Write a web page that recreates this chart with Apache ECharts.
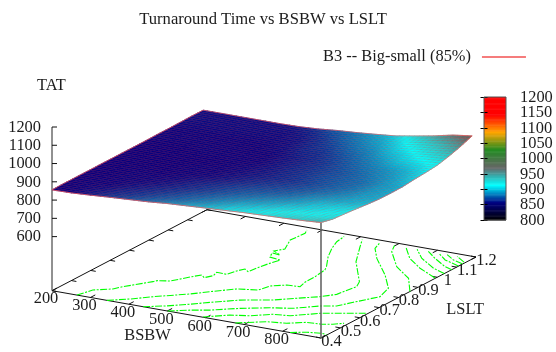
<!DOCTYPE html>
<html><head><meta charset="utf-8">
<style>html,body{margin:0;padding:0;background:#fff}#c{width:556px;height:352px}</style>
<script src="https://cdn.jsdelivr.net/npm/echarts@6/dist/echarts.min.js"></script>
</head><body><div id="c"></div>
<script>
// ---- axes / ticks
const bsbwTicks=[200,300,400,500,600,700,800];
const bsbwAllTicks=[200,300,400,500,600,700,800,900];
const lsltTicks=[0.4,0.5,0.6,0.7,0.8,0.9,1,1.1,1.2];
const tatTicks=[600,700,800,900,1000,1100,1200];
const barTicks=[800,850,900,950,1000,1050,1100,1150,1200];
const tatFloor=304;
const paletteStops=[800,857,914,971,1029,1086,1143,1200];
const paletteColors=['#000000','#000080','#00ffff','#666666','#228b22','#ffa500','#ff0000','#ff0000'];
// ---- surface table (rows: LSLT, cols: BSBW)
const surfaceBsbw=[200,250,300,350,400,450,500,550,600,650,700,750,800,850,900];
const surfaceLslt=[0.40,0.46,0.52,0.58,0.64,0.70,0.76,0.82,0.88,0.94,1.00,1.06,1.12,1.18];
const tat040=[856,858,864,871,877,883,892,898,904,910,916,920,924,929,936];
const tat046=[857,858,861,866,870,876,881,888,895,902,907,912,916,918,921];
const tat052=[857,858,858,862,866,870,876,881,887,893,898,904,908,912,916];
const tat058=[857,857,858,859,862,866,870,875,880,885,890,895,902,906,910];
const tat064=[857,857,858,858,859,863,867,871,875,878,882,889,894,898,903];
const tat070=[857,857,857,857,858,859,862,866,870,873,877,882,888,894,898];
const tat076=[857,857,857,857,858,858,860,863,866,869,874,879,884,892,897];
const tat082=[857,857,857,857,857,858,859,862,866,870,875,879,883,892,898];
const tat088=[857,857,857,858,858,858,858,862,866,870,875,880,887,894,905];
const tat094=[858,858,858,858,858,858,858,862,866,871,878,885,891,899,910];
const tat100=[858,858,858,858,858,858,860,865,868,875,883,891,902,908,917];
const tat106=[859,859,859,859,859,859,861,867,873,882,889,901,910,923,933];
const tat112=[860,860,860,860,860,860,863,870,880,888,897,910,925,936,953];
const tat118=[860,860,860,860,860,862,868,878,885,894,904,922,941,964,978];
const tatRows=[tat040,tat046,tat052,tat058,tat064,tat070,tat076,tat082,tat088,tat094,tat100,tat106,tat112,tat118];
// ---- contours on the base [BSBW, LSLT]
const contourA=[[265,.40],[277,.458],[312,.492],[323,.522],[363,.598],[367,.611],[394,.625],[420,.685],[433,.711],[448,.694],[458,.721],[452,.75],[479,.748],[486,.786],[495,.811],[511,.795],[516,.847],[522,.885],[530,.923],[499,.932],[488,.965],[511,.96],[484,.982],[498,1.011],[475,1.084],[479,1.153],[470,1.18]];
const contourB=[[343,.40],[383,.44],[420,.488],[481,.555],[511,.598],[553,.653],[599,.673],[607,.718],[636,.747],[668,.752],[661,.791],[660,.845],[654,.908],[645,.934],[611,1.01],[587,1.077],[572,1.132],[567,1.18]];
const contourC=[[437,.40],[477,.434],[519,.479],[551,.519],[601,.575],[665,.618],[705,.662],[744,.704],[768,.743],[778,.826],[765,.866],[684,1.009],[636,1.125],[614,1.18]];
const contourD=[[501,.40],[541,.436],[580,.462],[632,.514],[688,.557],[735,.583],[779,.635],[811,.657],[830,.706],[861,.782],[846,.855],[790,.949],[712,1.061],[671,1.133],[661,1.175]];
const contourE=[[592,.402],[637,.451],[679,.472],[718,.513],[757,.524],[809,.584],[839,.603],[897,.642]];
const contourF=[[677,.40],[734,.45],[778,.464],[814,.497],[850,.503],[872,.517],[890,.539]];
const contourG=[[819,.401],[851,.424],[884,.436],[898,.432]];
const contourH=[[900,.859],[848,.955],[782,1.025],[716,1.13],[698,1.18]];
const contourI=[[898,.992],[833,1.044],[776,1.104],[728,1.18]];
const contourJ=[[900,1.036],[859,1.062],[799,1.12],[757,1.18]];
const contourK=[[900,1.075],[876,1.088],[825,1.137],[786,1.18]];
const contourL=[[899,1.111],[851,1.138],[813,1.18]];
const contourM=[[898,1.133],[867,1.149],[835,1.18]];
const contourN=[[896,1.146],[861,1.18]];
const contours=[contourA,contourB,contourC,contourD,contourE,contourF,contourG,contourH,contourI,contourJ,contourK,contourL,contourM,contourN];

const FONT='"Liberation Serif","Times New Roman",serif';
const FS=16.4, TXT='#1c1c1c';
const font=FS+'px '+FONT;
const xMin=200,xMax=900,yMin=0.4,yMax=1.2;
const depthX=155,depthY=81,skewY=47.3,subdiv=4;

function project(api,x,y,z){
  const b=api.coord([x,z]);
  const u=(x-xMin)/(xMax-xMin),v=(y-yMin)/(yMax-yMin);
  return [b[0]+v*depthX,b[1]+u*skewY-v*depthY];
}
function paletteColor(z){
  const s=paletteStops;let i=0;
  if(z<=s[0])i=0;else{while(i<s.length-2&&z>s[i+1])i++;}
  const t=Math.max(0,Math.min(1,(z-s[i])/(s[i+1]-s[i])));
  return echarts.color.lerp(t,[paletteColors[i],paletteColors[i+1]]);
}
function line(a,b,stroke,w){
  return {type:'line',shape:{x1:a[0],y1:a[1],x2:b[0],y2:b[1]},style:{stroke:stroke,lineWidth:w}};
}
function label(p,text,align,dx,dy){
  return {type:'text',style:{x:p[0]+dx,y:p[1]+dy,text:text,font:font,fill:TXT,align:align||'center',verticalAlign:'middle'}};
}
// frame under the surface
function renderFrame(params,api){
  const ch=[];const z=tatFloor;
  const P=(x,y,zz)=>project(api,x,y,zz===undefined?z:zz);
  ch.push(line(P(xMin,yMin),P(xMax,yMin),'#111',1));
  ch.push(line(P(xMax,yMin),P(xMax,yMax),'#111',1));
  ch.push(line(P(xMin,yMin),P(xMin,yMax),'#111',1));
  ch.push(line(P(xMin,yMax),P(xMax,yMax),'#111',1));
  bsbwAllTicks.forEach(t=>{
    ch.push(line(P(t,yMin),P(t,yMin+0.025),'#111',1));
    ch.push(line(P(t,yMax),P(t,yMax-0.025),'#111',1));
  });
  lsltTicks.forEach(t=>{
    ch.push(line(P(xMax,t),P(xMax-13,t),'#111',1));
    ch.push(line(P(xMin,t),P(xMin+13,t),'#111',1));
  });
  ch.push(line(P(xMin,yMin),P(xMin,yMin,1200),'#222',1));
  tatTicks.forEach(t=>{
    const a=P(xMin,yMin,t);
    ch.push({type:'line',shape:{x1:a[0],y1:a[1],x2:a[0]+5,y2:a[1]},style:{stroke:'#111',lineWidth:1}});
    ch.push(label(a,String(t),'right',-11,0.5));
  });
  bsbwTicks.forEach(t=>ch.push(label(P(t,yMin),String(t),'center',-6,8.5)));
  lsltTicks.forEach(t=>ch.push(label(P(xMax,t),String(t),'center',10.5,3.5)));
  ch.push(label(P(xMin,yMin,1200),'TAT','center',-0.7,-41));
  const bx=P(550,yMin);ch.push(label(bx,'BSBW','center',-39,21.4));
  const ly=P(xMax,0.9);ch.push(label(ly,'LSLT','center',47.3,21.9));
  return {type:'group',children:ch};
}
function renderContour(params,api){
  const pts=contours[params.dataIndex].map(p=>project(api,p[0],p[1],tatFloor));
  return {type:'polyline',shape:{points:pts},style:{stroke:'#00ff00',lineWidth:1.1,lineDash:[7,1.5,2,1.5],fill:null}};
}
function renderCorner(params,api){
  return line(project(api,xMax,yMin,tatFloor),project(api,xMax,yMin,tatRows[0][14]),'#666',1.6);
}
// surface: each table cell painted as shaded facets with the fine red mesh
function renderCell(params,api){
  const idx=params.dataIndex;const nc=surfaceBsbw.length-1;
  const i=idx%nc,j=Math.floor(idx/nc);
  const x0=surfaceBsbw[i],x1=surfaceBsbw[i+1],y0=surfaceLslt[j],y1=surfaceLslt[j+1];
  const z00=tatRows[j][i],z10=tatRows[j][i+1],z01=tatRows[j+1][i],z11=tatRows[j+1][i+1];
  const ch=[];
  const Z=(s,t)=>z00*(1-s)*(1-t)+z10*s*(1-t)+z01*(1-s)*t+z11*s*t;
  const Q=(s,t)=>project(api,x0+(x1-x0)*s,y0+(y1-y0)*t,Z(s,t));
  for(let b=0;b<subdiv;b++)for(let a=0;a<subdiv;a++){
    const s0=a/subdiv,s1=(a+1)/subdiv,t0=b/subdiv,t1=(b+1)/subdiv;
    const c=paletteColor(Z((s0+s1)/2,(t0+t1)/2));
    ch.push({type:'polygon',shape:{points:[Q(s0,t0),Q(s1,t0),Q(s1,t1),Q(s0,t1)]},style:{fill:c,stroke:c,lineWidth:0.7}});
  }
  for(let b=0;b<subdiv;b++){const t=b/subdiv;ch.push(line(Q(0,t),Q(1,t),'rgba(255,40,40,0.24)',0.8));}
  for(let a=0;a<subdiv;a++){const s=a/subdiv;ch.push(line(Q(s,0),Q(s,1),'rgba(255,40,40,0.12)',0.8));}
  return {type:'group',children:ch};
}
function renderOutline(params,api){
  const pts=[];const nr=surfaceLslt.length,nc=surfaceBsbw.length;
  for(let i=0;i<nc;i++)pts.push(project(api,surfaceBsbw[i],surfaceLslt[0],tatRows[0][i]));
  for(let j=1;j<nr;j++)pts.push(project(api,surfaceBsbw[nc-1],surfaceLslt[j],tatRows[j][nc-1]));
  for(let i=nc-2;i>=0;i--)pts.push(project(api,surfaceBsbw[i],surfaceLslt[nr-1],tatRows[nr-1][i]));
  for(let j=nr-2;j>=0;j--)pts.push(project(api,surfaceBsbw[0],surfaceLslt[j],tatRows[j][0]));
  return {type:'polygon',shape:{points:pts},style:{fill:null,stroke:'rgba(255,90,90,0.75)',lineWidth:0.9}};
}
// colour bar
const barLevels=[];for(let z=800;z<1200;z+=4)barLevels.push(z);
function renderBar(params,api){
  const z=barLevels[params.dataIndex];
  const a=api.coord([0,z]),b=api.coord([1,z+4]);
  return {type:'rect',shape:{x:a[0],y:b[1],width:b[0]-a[0],height:a[1]-b[1]+0.5},style:{fill:paletteColor(z+2)}};
}
function renderBarFrame(params,api){
  const a=api.coord([0,800]),b=api.coord([1,1200]);
  const ch=[{type:'rect',shape:{x:a[0],y:b[1],width:b[0]-a[0],height:a[1]-b[1]},style:{fill:null,stroke:'#555',lineWidth:1}}];
  barTicks.forEach(t=>{ch.push(label(api.coord([1,t]),String(t),'left',14,0.5));});
  return {type:'group',children:ch};
}
const cellData=[];
for(let j=0;j<surfaceLslt.length-1;j++)for(let i=0;i<surfaceBsbw.length-1;i++)cellData.push([surfaceBsbw[i],tatRows[j][i]]);

const chart=echarts.init(document.getElementById('c'),null,{renderer:'canvas'});
const barAxisBase={type:'value',gridIndex:1,min:800,max:1200,interval:50,z:6,
  axisLine:{show:false},
  axisTick:{show:true,inside:true,length:3.5,lineStyle:{color:'#000'}},splitLine:{show:false},axisLabel:{show:false}};
chart.setOption({
  animation:false,backgroundColor:'#fff',
  title:{text:'Turnaround Time vs BSBW vs LSLT',left:258,top:6,textAlign:'center',
    textStyle:{fontFamily:FONT,fontSize:16.6,fontWeight:'normal',color:TXT}},
  legend:{show:true,left:318,top:44,align:'right',itemWidth:44,itemHeight:1.5,icon:'rect',selectedMode:false,
    data:['B3 -- Big-small (85%)'],textStyle:{fontFamily:FONT,fontSize:FS,color:TXT,padding:[0,6,0,0]}},
  grid:[{left:52,top:127,width:269,height:163.7,show:false},{left:484,top:97,width:22,height:123,show:false}],
  xAxis:[{type:'value',min:xMin,max:xMax,show:false,gridIndex:0},{type:'value',min:0,max:1,show:false,gridIndex:1}],
  yAxis:[{type:'value',min:tatFloor,max:1200,show:false,gridIndex:0},
    Object.assign({},barAxisBase,{position:'right'}),
    Object.assign({},barAxisBase,{position:'left'})],
  series:[
    {type:'custom',name:'frame',silent:true,data:[[xMin,tatFloor]],renderItem:renderFrame,z:1,clip:false},
    {type:'custom',name:'contours',silent:true,data:contours.map(c=>c[0]),renderItem:renderContour,z:2,clip:false},
    {type:'custom',name:'corner',silent:true,data:[[xMax,tatFloor]],renderItem:renderCorner,z:3,clip:false},
    {type:'custom',name:'B3 -- Big-small (85%)',silent:true,data:cellData,renderItem:renderCell,z:4,clip:false,itemStyle:{color:'#f25050'},progressive:0},
    {type:'custom',name:'outline',silent:true,data:[[xMin,tatFloor]],renderItem:renderOutline,z:5,clip:false},
    {type:'custom',name:'bar',silent:true,xAxisIndex:1,yAxisIndex:1,data:barLevels.map(z=>[0,z]),renderItem:renderBar,z:1,clip:false,progressive:0},
    {type:'custom',name:'barFrame',silent:true,xAxisIndex:1,yAxisIndex:1,data:[[0,800]],renderItem:renderBarFrame,z:7,clip:false}
  ]
});
</script></body></html>
